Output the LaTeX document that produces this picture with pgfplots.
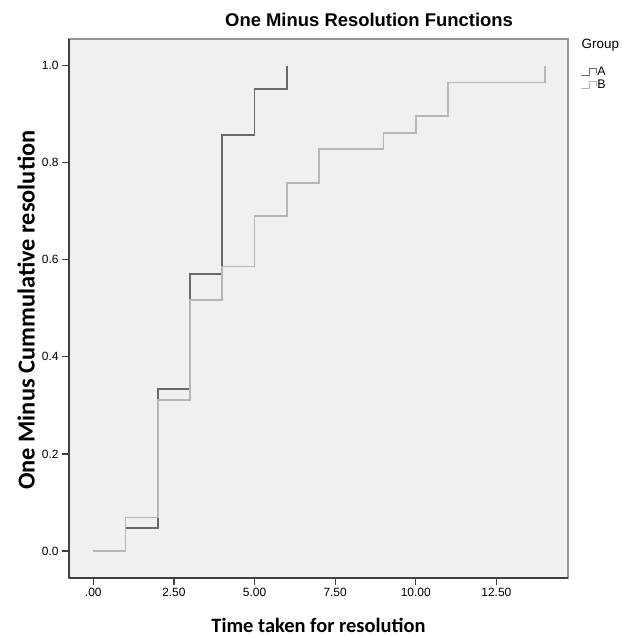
\documentclass[border=0pt]{standalone}
\usepackage{fontspec}
\setmainfont{Liberation Sans}
\newfontfamily\labelfont{Carlito}
\usepackage{pgfplots}
\pgfplotsset{compat=1.18}
\definecolor{bg}{RGB}{240,240,240}
\definecolor{framegray}{RGB}{150,150,150}
\definecolor{grpA}{RGB}{105,105,105}
\definecolor{grpB}{RGB}{182,182,182}

\begin{document}
\begin{tikzpicture}
\path[use as bounding box] (-69bp,-58bp) rectangle (553bp,578bp);
\begin{axis}[
    at={(0,0)}, anchor=south west,
    scale only axis,
    width=499bp, height=539bp,
    xmin=-0.753, xmax=14.72,
    ymin=-0.0557, ymax=1.055,
    axis x line*=bottom, axis y line*=left,
    axis line style={-, black!75, line width=1.2bp},
    axis background/.style={fill=bg, draw=framegray, line width=1.5bp},
    tick align=outside,
    major tick length=7bp,
    tick style={black!75, line width=1.2bp},
    xtick={0,2.5,5,7.5,10,12.5},
    xticklabels={.00,2.50,5.00,7.50,10.00,12.50},
    ytick={0,0.2,0.4,0.6,0.8,1.0},
    yticklabels={0.0,0.2,0.4,0.6,0.8,1.0},
    ticklabel style={font=\fontsize{12}{13}\selectfont},
    title={One Minus Resolution Functions},
    title style={font=\bfseries\fontsize{18.5}{20}\selectfont,
        at={(axis description cs:0.3126,1)}, anchor=base west,
        inner sep=0pt, yshift=7bp},
    xlabel={Time taken for resolution},
    xlabel style={font=\labelfont\bfseries\fontsize{20.5}{22}\selectfont,
        at={(axis description cs:0.5,-0.087)}, anchor=center},
    ylabel={One Minus Cummulative resolution},
    ylabel style={font=\labelfont\bfseries\fontsize{24.5}{26}\selectfont,
        at={(axis description cs:-0.086,0.497)}, anchor=center},
    clip=false,
    legend style={at={(axis description cs:1.025,0.949)}, anchor=north west,
        draw=none, fill=none, inner sep=0pt, row sep=1.5bp,
        font=\fontsize{12.5}{13}\selectfont,
        nodes={inner sep=0.5bp}},
    legend cell align=left,
    legend image code/.code={
        \draw[#1, line width=1.2bp] (0bp,-3.5bp) -- (8bp,-3.5bp) -- (8bp,3.5bp) -- (15bp,3.5bp) -- (15bp,-1bp);
    },
]
\addplot[const plot, grpA, line width=1.8bp] coordinates {
    (0,0) (1,0.0476) (2,0.3333) (3,0.5714) (4,0.8571) (5,0.9524) (6,1.0)
};
\addlegendentry{A}
\addplot[const plot, grpB, line width=1.8bp] coordinates {
    (0,0) (1,0.0690) (2,0.3103) (3,0.5172) (4,0.5862) (5,0.6897) (6,0.7586)
    (7,0.8276) (9,0.8621) (10,0.8966) (11,0.9655) (14,1.0)
};
\addlegendentry{B}
\node[anchor=west, font=\fontsize{13.5}{15}\selectfont, inner sep=0pt]
    at (axis description cs:1.027,0.988) {Group};
\end{axis}
\end{tikzpicture}
\end{document}
